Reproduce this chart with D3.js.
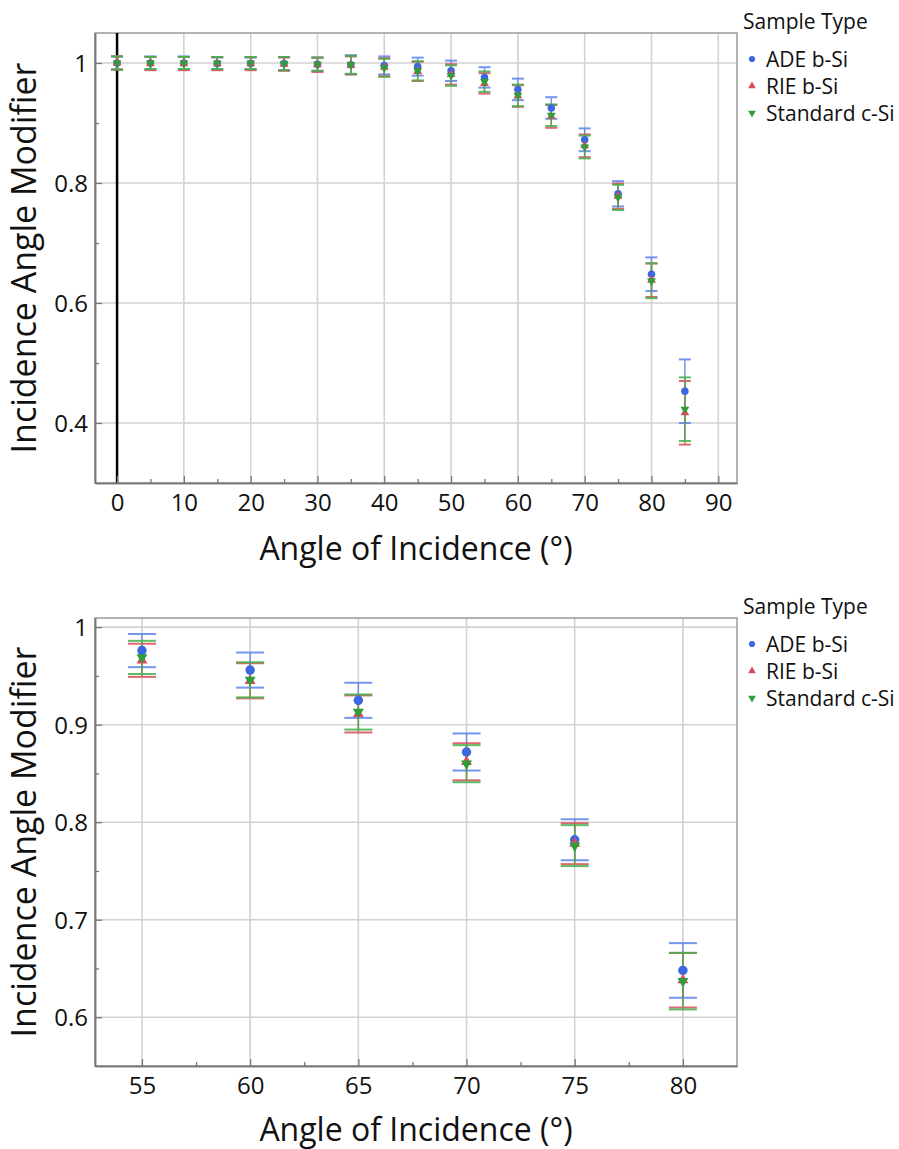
<!DOCTYPE html>
<html>
<head>
<meta charset="utf-8">
<title>incidence angle modifier</title>
<style>
  body { margin: 0; background: #fff; }
  svg text { font-family: "Open Sans", sans-serif; fill: #111; }
</style>
</head>
<body>
<svg width="899" height="1149" id="chart"></svg>
<script src="https://d3js.org/d3.v7.min.js"></script>
<script>
// values
var angles = [0, 5, 10, 15, 20, 25, 30, 35, 40, 45, 50, 55, 60, 65, 70, 75, 80, 85];
var adeMean = [1.000, 1.000, 1.000, 0.999, 0.999, 0.999, 0.998, 0.997, 0.996, 0.994, 0.987, 0.976, 0.956, 0.925, 0.872, 0.782, 0.648, 0.453];
var adeErr  = [0.011, 0.011, 0.011, 0.010, 0.010, 0.011, 0.011, 0.016, 0.015, 0.015, 0.017, 0.017, 0.018, 0.018, 0.019, 0.021, 0.028, 0.053];
var rieMean = [1.000, 0.999, 0.999, 0.999, 0.999, 0.998, 0.997, 0.996, 0.993, 0.986, 0.981, 0.966, 0.945, 0.911, 0.862, 0.778, 0.638, 0.417];
var rieErr  = [0.011, 0.011, 0.011, 0.011, 0.011, 0.011, 0.012, 0.015, 0.015, 0.016, 0.017, 0.017, 0.018, 0.019, 0.019, 0.021, 0.028, 0.053];
var stdMean = [1.000, 1.000, 1.000, 1.000, 1.000, 0.999, 0.998, 0.997, 0.992, 0.987, 0.979, 0.969, 0.946, 0.913, 0.860, 0.776, 0.637, 0.423];
var stdErr  = [0.011, 0.010, 0.010, 0.010, 0.010, 0.011, 0.011, 0.015, 0.015, 0.016, 0.017, 0.017, 0.018, 0.018, 0.019, 0.021, 0.029, 0.053];

var seriesNames = ["ADE b-Si", "RIE b-Si", "Standard c-Si"];
var legendTitle = "Sample Type";
var xTitle = "Angle of Incidence (°)";
var yTitle = "Incidence Angle Modifier";

var topXTicks = [0, 10, 20, 30, 40, 50, 60, 70, 80, 90];
var topXMinor = [5, 15, 25, 35, 45, 55, 65, 75, 85];
var topYTicks = [0.4, 0.6, 0.8, 1];
var topYMinor = [0.5, 0.7, 0.9];
var botXTicks = [55, 60, 65, 70, 75, 80];
var botXMinor = [57.5, 62.5, 67.5, 72.5, 77.5];
var botYTicks = [0.6, 0.7, 0.8, 0.9, 1];
var botYMinor = [0.65, 0.75, 0.85, 0.95];

var series = [
  { name: seriesNames[0], mean: adeMean, err: adeErr, color: "#3b67e0", line: "#5c84ea", shape: "circle" },
  { name: seriesNames[1], mean: rieMean, err: rieErr, color: "#dc4a5c", line: "#d9505a", shape: "up" },
  { name: seriesNames[2], mean: stdMean, err: stdErr, color: "#2f9e3a", line: "#45b04d", shape: "down" }
];

var svg = d3.select("#chart");

function markerPath(shape, big) {
  if (shape == "circle") return d3.symbol(d3.symbolCircle, big ? 70 : 44)();
  return d3.symbol(d3.symbolTriangle, big ? 52 : 34)();
}

function drawPanel(p) {
  var g = svg.append("g");
  var x = d3.scaleLinear().domain(p.xDomain).range([p.left, p.right]);
  var y = d3.scaleLinear().domain(p.yDomain).range([p.bottom, p.top]);

  // grid
  g.selectAll(".vg").data(p.xTicks).enter().append("line")
    .attr("x1", d => x(d)).attr("x2", d => x(d))
    .attr("y1", p.top).attr("y2", p.bottom)
    .attr("stroke", "#d2d2d2").attr("stroke-width", 1.6);
  g.selectAll(".hg").data(p.yTicks).enter().append("line")
    .attr("x1", p.left).attr("x2", p.right)
    .attr("y1", d => y(d)).attr("y2", d => y(d))
    .attr("stroke", "#d2d2d2").attr("stroke-width", 1.6);

  // frame
  g.append("rect").attr("x", p.left).attr("y", p.top)
    .attr("width", p.right - p.left).attr("height", p.bottom - p.top)
    .attr("fill", "none").attr("stroke", "#9a9a9a").attr("stroke-width", 1.5);

  if (p.zeroLine) {
    g.append("line").attr("x1", x(0)).attr("x2", x(0))
      .attr("y1", p.top).attr("y2", p.bottom)
      .attr("stroke", "#000").attr("stroke-width", 2.5);
  }

  // axes
  var xa = g.append("g").attr("transform", "translate(0," + p.bottom + ")")
    .call(d3.axisBottom(x).tickValues(p.xTicks).tickSizeInner(-7).tickSizeOuter(0).tickPadding(11).tickFormat(d3.format("")));
  var xm = g.append("g").attr("transform", "translate(0," + p.bottom + ")")
    .call(d3.axisBottom(x).tickValues(p.xMinor).tickSizeInner(-4).tickSizeOuter(0).tickFormat(""));
  var ya = g.append("g").attr("transform", "translate(" + p.left + ",0)")
    .call(d3.axisLeft(y).tickValues(p.yTicks).tickSizeInner(-7).tickSizeOuter(0).tickPadding(7).tickFormat(d3.format("")));
  var ym = g.append("g").attr("transform", "translate(" + p.left + ",0)")
    .call(d3.axisLeft(y).tickValues(p.yMinor).tickSizeInner(-4).tickSizeOuter(0).tickFormat(""));
  [xa, xm, ya, ym].forEach(function(a) {
    a.select(".domain").attr("stroke", "#777").attr("stroke-width", 1.5);
    a.selectAll(".tick line").attr("stroke", "#777").attr("stroke-width", 1.3);
    a.selectAll(".tick text").attr("font-size", 24).attr("font-family", "Open Sans").attr("fill", "#111");
  });
  xa.selectAll(".tick text").attr("dy", "0.71em");
  ya.selectAll(".tick text").attr("dy", "0.36em");

  // titles
  g.append("text").attr("x", (p.left + p.right) / 2).attr("y", p.xTitleY)
    .attr("text-anchor", "middle").attr("font-size", 32).text(xTitle);
  g.append("text")
    .attr("transform", "translate(36," + (p.top + p.bottom) / 2 + ") rotate(-90)")
    .attr("text-anchor", "middle").attr("font-size", 34).text(yTitle);

  // data
  var idx = d3.range(angles.length).filter(i => angles[i] >= p.minA && angles[i] <= p.maxA);
  series.forEach(function(s) {
    var eg = g.append("g").attr("stroke", s.line).attr("opacity", 0.85);
    idx.forEach(function(i) {
      var cx = x(angles[i]);
      var lo = y(s.mean[i] - s.err[i]), hi = y(s.mean[i] + s.err[i]);
      eg.append("line").attr("x1", cx).attr("x2", cx).attr("y1", lo).attr("y2", hi).attr("stroke-width", 1.5);
      eg.append("line").attr("x1", cx - p.cap / 2).attr("x2", cx + p.cap / 2).attr("y1", lo).attr("y2", lo).attr("stroke-width", 2);
      eg.append("line").attr("x1", cx - p.cap / 2).attr("x2", cx + p.cap / 2).attr("y1", hi).attr("y2", hi).attr("stroke-width", 2);
    });
  });
  series.forEach(function(s) {
    g.append("g").selectAll("path").data(idx).enter().append("path")
      .attr("d", markerPath(s.shape, p.big))
      .attr("transform", i => "translate(" + x(angles[i]) + "," + y(s.mean[i]) + ")" + (s.shape == "down" ? " rotate(180)" : ""))
      .attr("fill", s.color);
  });

  // legend
  var lg = g.append("g").attr("transform", "translate(743," + p.legendTop + ")");
  lg.append("text").attr("x", 0).attr("y", 0).attr("font-size", 21).text(legendTitle);
  series.forEach(function(s, k) {
    var ly = 31 + k * 27;
    lg.append("path").attr("d", d3.symbol(s.shape == "circle" ? d3.symbolCircle : d3.symbolTriangle, s.shape == "circle" ? 30 : 26)())
      .attr("transform", "translate(9," + (ly - 1) + ")" + (s.shape == "down" ? " rotate(180)" : ""))
      .attr("fill", s.color);
    lg.append("text").attr("x", 23).attr("y", ly).attr("dy", "0.35em").attr("font-size", 21).text(s.name);
  });
}

drawPanel({
  left: 95, right: 737, top: 33, bottom: 483,
  xDomain: [-3.3, 92.8], yDomain: [0.3, 1.05],
  xTicks: topXTicks, xMinor: topXMinor, yTicks: topYTicks, yMinor: topYMinor,
  minA: 0, maxA: 85, cap: 12, big: false, zeroLine: true,
  xTitleY: 560, legendTop: 29
});

drawPanel({
  left: 95, right: 737, top: 618, bottom: 1066,
  xDomain: [52.83, 82.5], yDomain: [0.55, 1.0094],
  xTicks: botXTicks, xMinor: botXMinor, yTicks: botYTicks, yMinor: botYMinor,
  minA: 55, maxA: 80, cap: 28, big: true, zeroLine: false,
  xTitleY: 1141, legendTop: 614
});
</script>
</body>
</html>
